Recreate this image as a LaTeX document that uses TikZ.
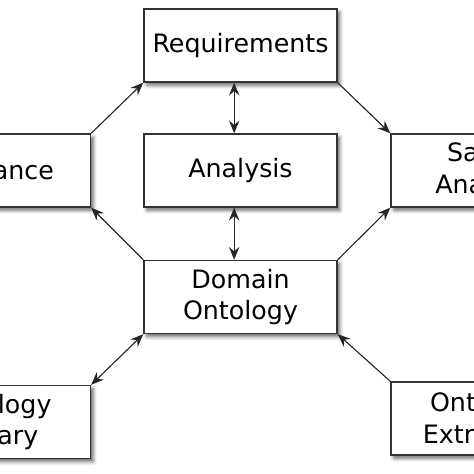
\documentclass[tikz,border=0pt]{standalone}
\usepackage{fontspec}
\setmainfont{DejaVu Sans}
\usepackage{tikz}
\usetikzlibrary{arrows.meta,positioning,shadows.blur}

\begin{document}
\begin{tikzpicture}[
    x=0.025cm, y=-0.025cm,
    box/.style={
        draw=black!80,
        line width=1pt,
        fill=white,
        minimum width=4.825cm,
        minimum height=1.825cm,
        align=center,
        font=\fontsize{18}{22.7}\selectfont,
        blur shadow={shadow xshift=0.7mm, shadow yshift=-0.8mm,
                     shadow blur radius=0.9mm, shadow opacity=60}
    },
    tip/.style={Stealth[length=3.2mm, width=2.6mm, inset=1.1mm]},
    link/.style={
        line width=0.8pt,
        draw=black!85,
        -{Stealth[length=3.2mm, width=2.6mm, inset=1.1mm]}
    },
    both/.style={
        link,
        {Stealth[length=3.2mm, width=2.6mm, inset=1.1mm]}-{Stealth[length=3.2mm, width=2.6mm, inset=1.1mm]}
    }
]
    \clip (0,0) rectangle (474,474);

    % boxes
    \node[box] (req) at (240.5,45.5)  {Requirements};
    \node[box] (ana) at (240.5,170.5) {Analysis};
    \node[box] (dom) at (240.5,297)   {Domain\\Ontology};
    \node[box] (gui) at (-6,170.5)    {Guidance};
    \node[box] (saf) at (487.5,170.5) {Safety\\Analysis};
    \node[box] (lib) at (-6,422)      {Ontology\\Library};
    \node[box] (ext) at (487.5,418.5) {Ontology\\Extraction};

    % links
    \draw[link] (gui.north east) -- (req.south west);
    \draw[link] (req.south east) -- (saf.north west);
    \draw[both] ([xshift=-4.5]req.south) -- ([xshift=-4.5]ana.north);
    \draw[both] ([xshift=-4.5]ana.south) -- ([xshift=-4.5]dom.north);
    \draw[link] (dom.north west) -- (gui.south east);
    \draw[link] (dom.north east) -- (saf.south west);
    \draw[both] (lib.north east) -- (dom.south west);
    \draw[link] (ext.north west) -- (dom.south east);
\end{tikzpicture}
\end{document}
